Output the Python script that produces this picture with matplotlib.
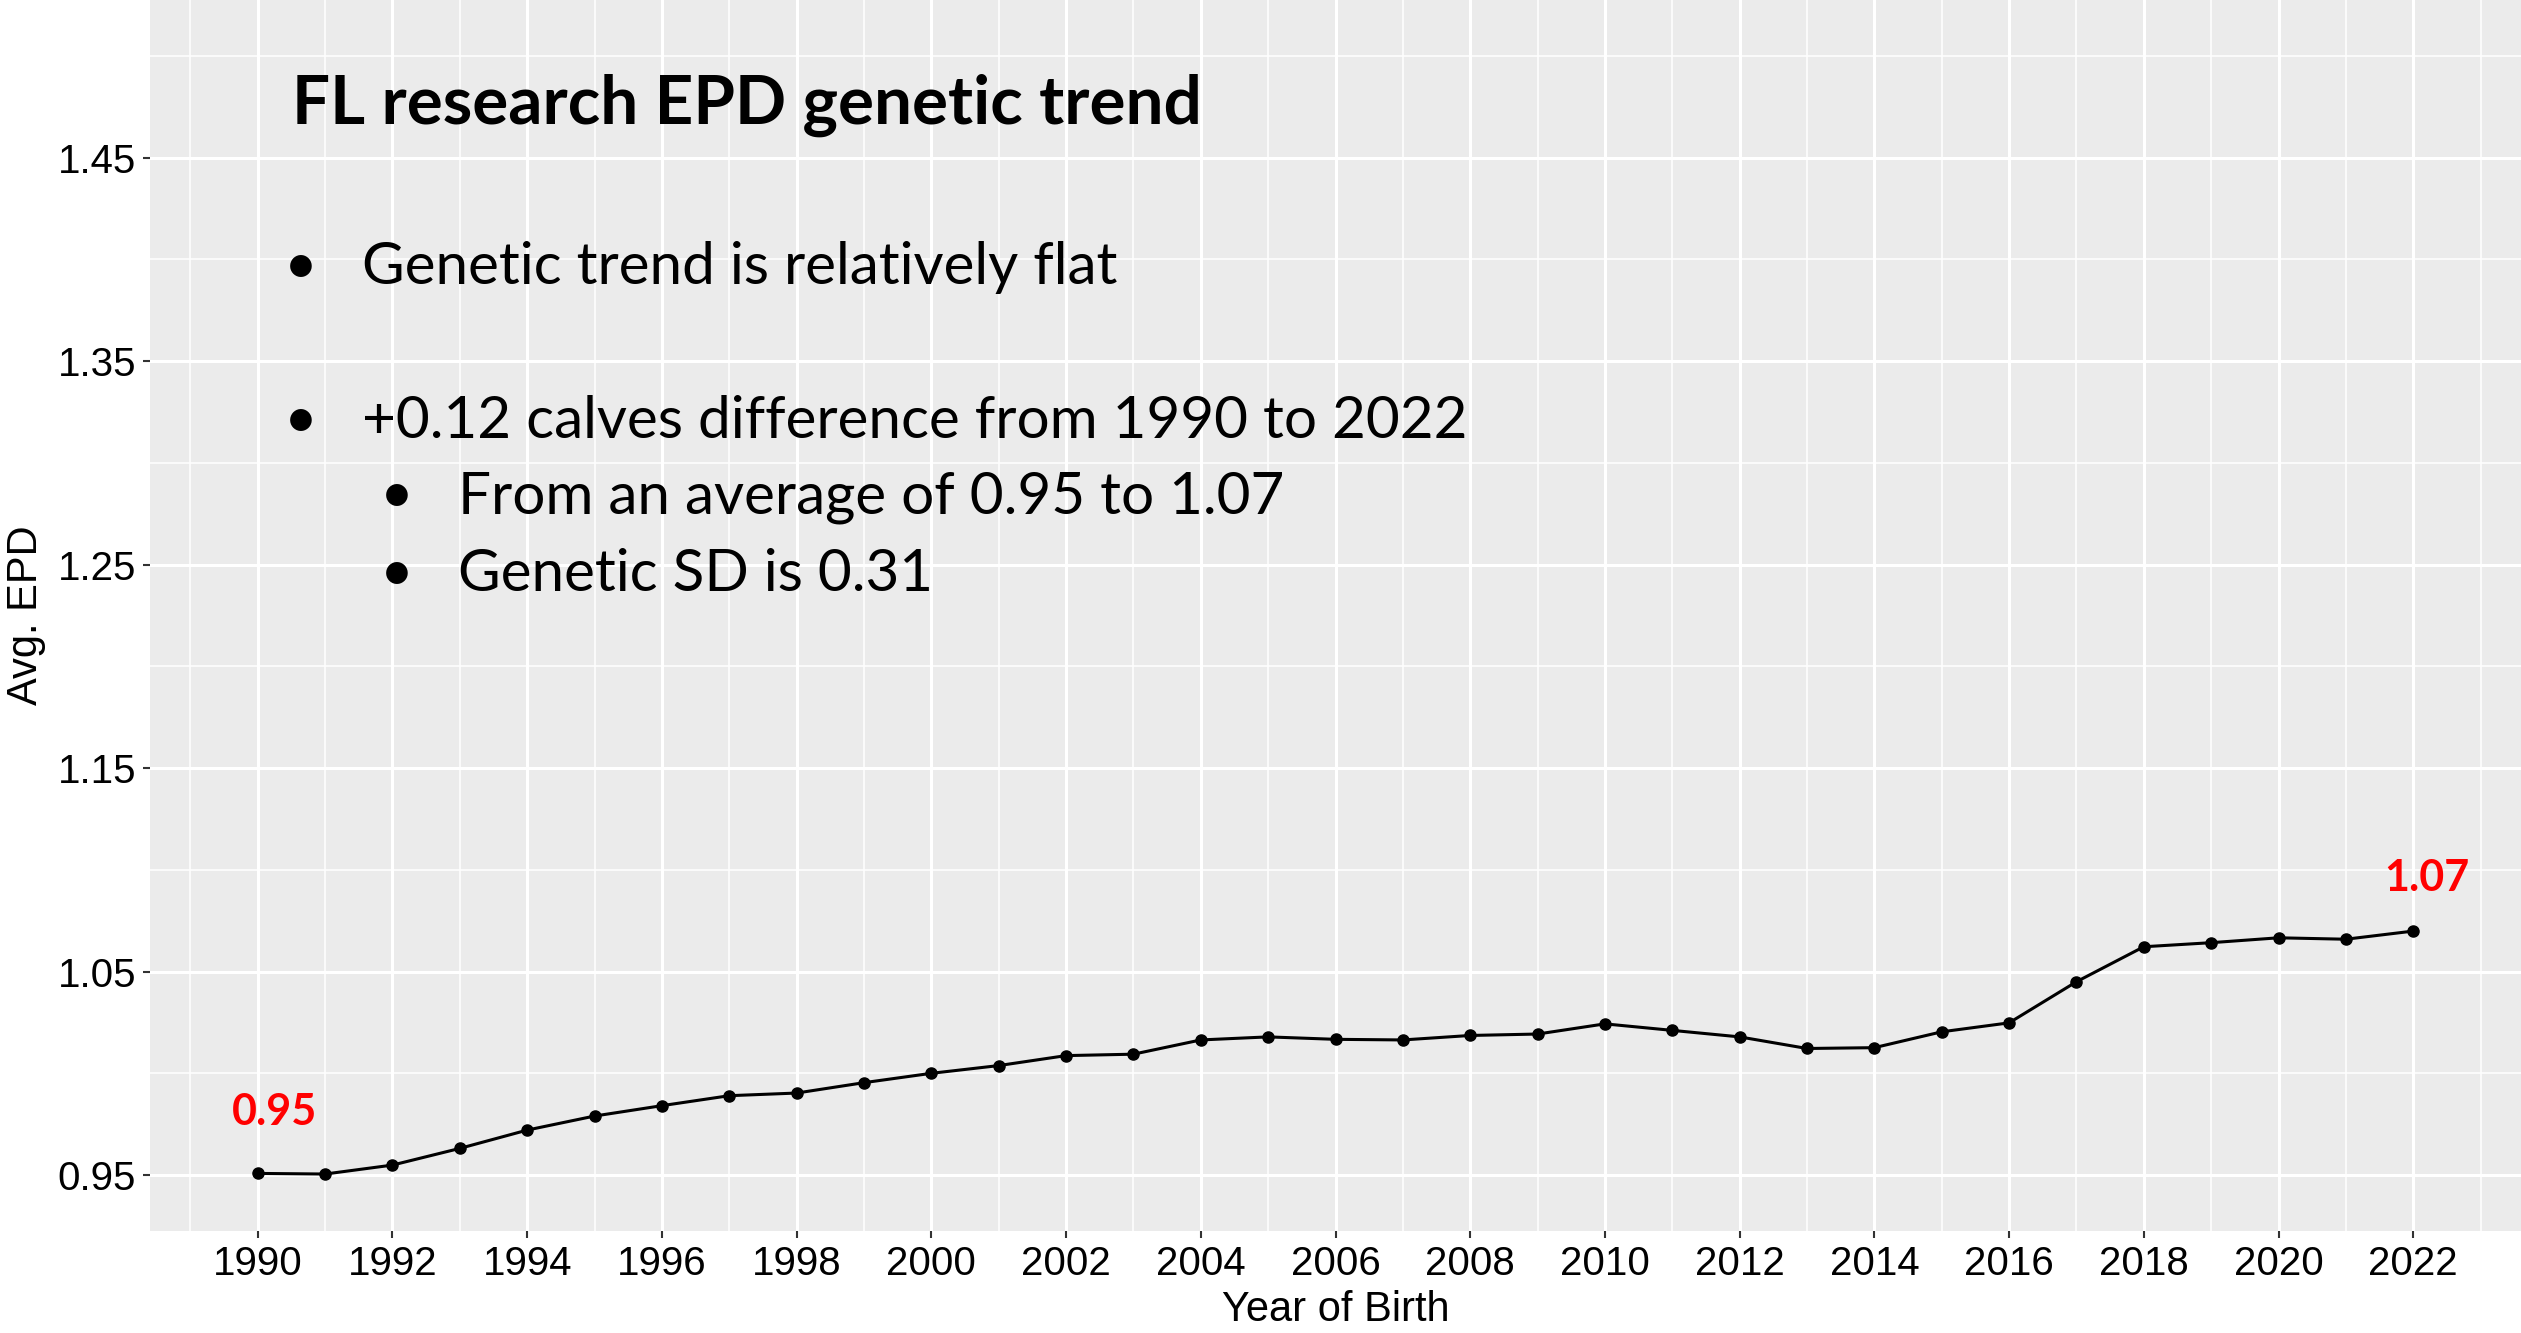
# ============== importing libraries ==================
import numpy as np
import matplotlib
matplotlib.use("Agg")
import matplotlib.pyplot as plt

# ============== data ==================================
years = list(range(1990, 2023))
avg_epd = [0.9508, 0.9505, 0.9549, 0.9631, 0.9721, 0.9790, 0.9841, 0.9890,
           0.9903, 0.9954, 1.0000, 1.0038, 1.0087, 1.0094, 1.0164, 1.0179,
           1.0167, 1.0164, 1.0186, 1.0193, 1.0243, 1.0211, 1.0179, 1.0122,
           1.0126, 1.0204, 1.0248, 1.0450, 1.0622, 1.0642, 1.0666, 1.0659,
           1.0699]

x_ticks = list(range(1990, 2023, 2))
y_ticks = [0.95, 1.05, 1.15, 1.25, 1.35, 1.45]

start_label = "0.95"
end_label = "1.07"

title = "FL research EPD genetic trend"
bullets = ["Genetic trend is relatively flat",
           "+0.12 calves difference from 1990 to 2022"]
sub_bullets = ["From an average of 0.95 to 1.07",
               "Genetic SD is 0.31"]

# ============== figure / panel ========================
W, H = 2521, 1333
fig = plt.figure(figsize=(W / 100, H / 100), dpi=100)
ax = fig.add_axes([150 / W, (H - 1231) / H, (W - 150) / W, 1231 / H])
ax.set_facecolor("#EBEBEB")
for s in ax.spines.values():
    s.set_visible(False)

ax.set_xlim(1988.4, 2023.6)
ax.set_ylim(0.9225, 1.5275)

ax.set_xticks(x_ticks)
ax.set_xticks(np.arange(1989, 2024, 2), minor=True)
ax.set_yticks(y_ticks)
ax.set_yticks(np.arange(1.00, 1.51, 0.10), minor=True)
ax.set_yticklabels(["%.2f" % v for v in y_ticks])

ax.grid(which="major", color="white", lw=2.2)
ax.grid(which="minor", color="white", lw=1.1)
ax.set_axisbelow(True)
ax.tick_params(which="major", length=5, width=1.5, color="#333333",
               labelsize=29, labelcolor="black", pad=5)
ax.tick_params(which="minor", length=0)
for lab in ax.get_xticklabels() + ax.get_yticklabels():
    lab.set_family("Liberation Sans")

ax.set_xlabel("Year of Birth", fontsize=30, family="Liberation Sans", labelpad=5)
ax.set_ylabel("Avg. EPD", fontsize=30, family="Liberation Sans", labelpad=8)

# ============== trend line ============================
ax.plot(years, avg_epd, color="black", lw=2.2, marker="o", ms=8, zorder=3)

ax.text(years[0] + 0.25, avg_epd[0] + 0.030, start_label, color="red",
        fontsize=31, fontweight="bold", family="Lato", ha="center", va="center")
ax.text(years[-1] + 0.2, avg_epd[-1] + 0.026, end_label, color="red",
        fontsize=31, fontweight="bold", family="Lato", ha="center", va="center")

# ============== slide text ============================
def px(x, y):
    return x / W, 1 - y / H

fig.text(*px(292, 124), title, fontsize=48.5, fontweight="bold", family="Lato",
         va="baseline")
for txt, yb in zip(bullets, [284, 438]):
    fig.text(*px(284, yb), "\u2022", fontsize=42, family="Lato", va="baseline")
    fig.text(*px(362, yb), txt, fontsize=42, family="Lato", va="baseline")
for txt, yb in zip(sub_bullets, [513, 591]):
    fig.text(*px(380, yb), "\u2022", fontsize=42, family="Lato", va="baseline")
    fig.text(*px(458, yb), txt, fontsize=42, family="Lato", va="baseline")

fig.savefig("out.png", dpi=100)
